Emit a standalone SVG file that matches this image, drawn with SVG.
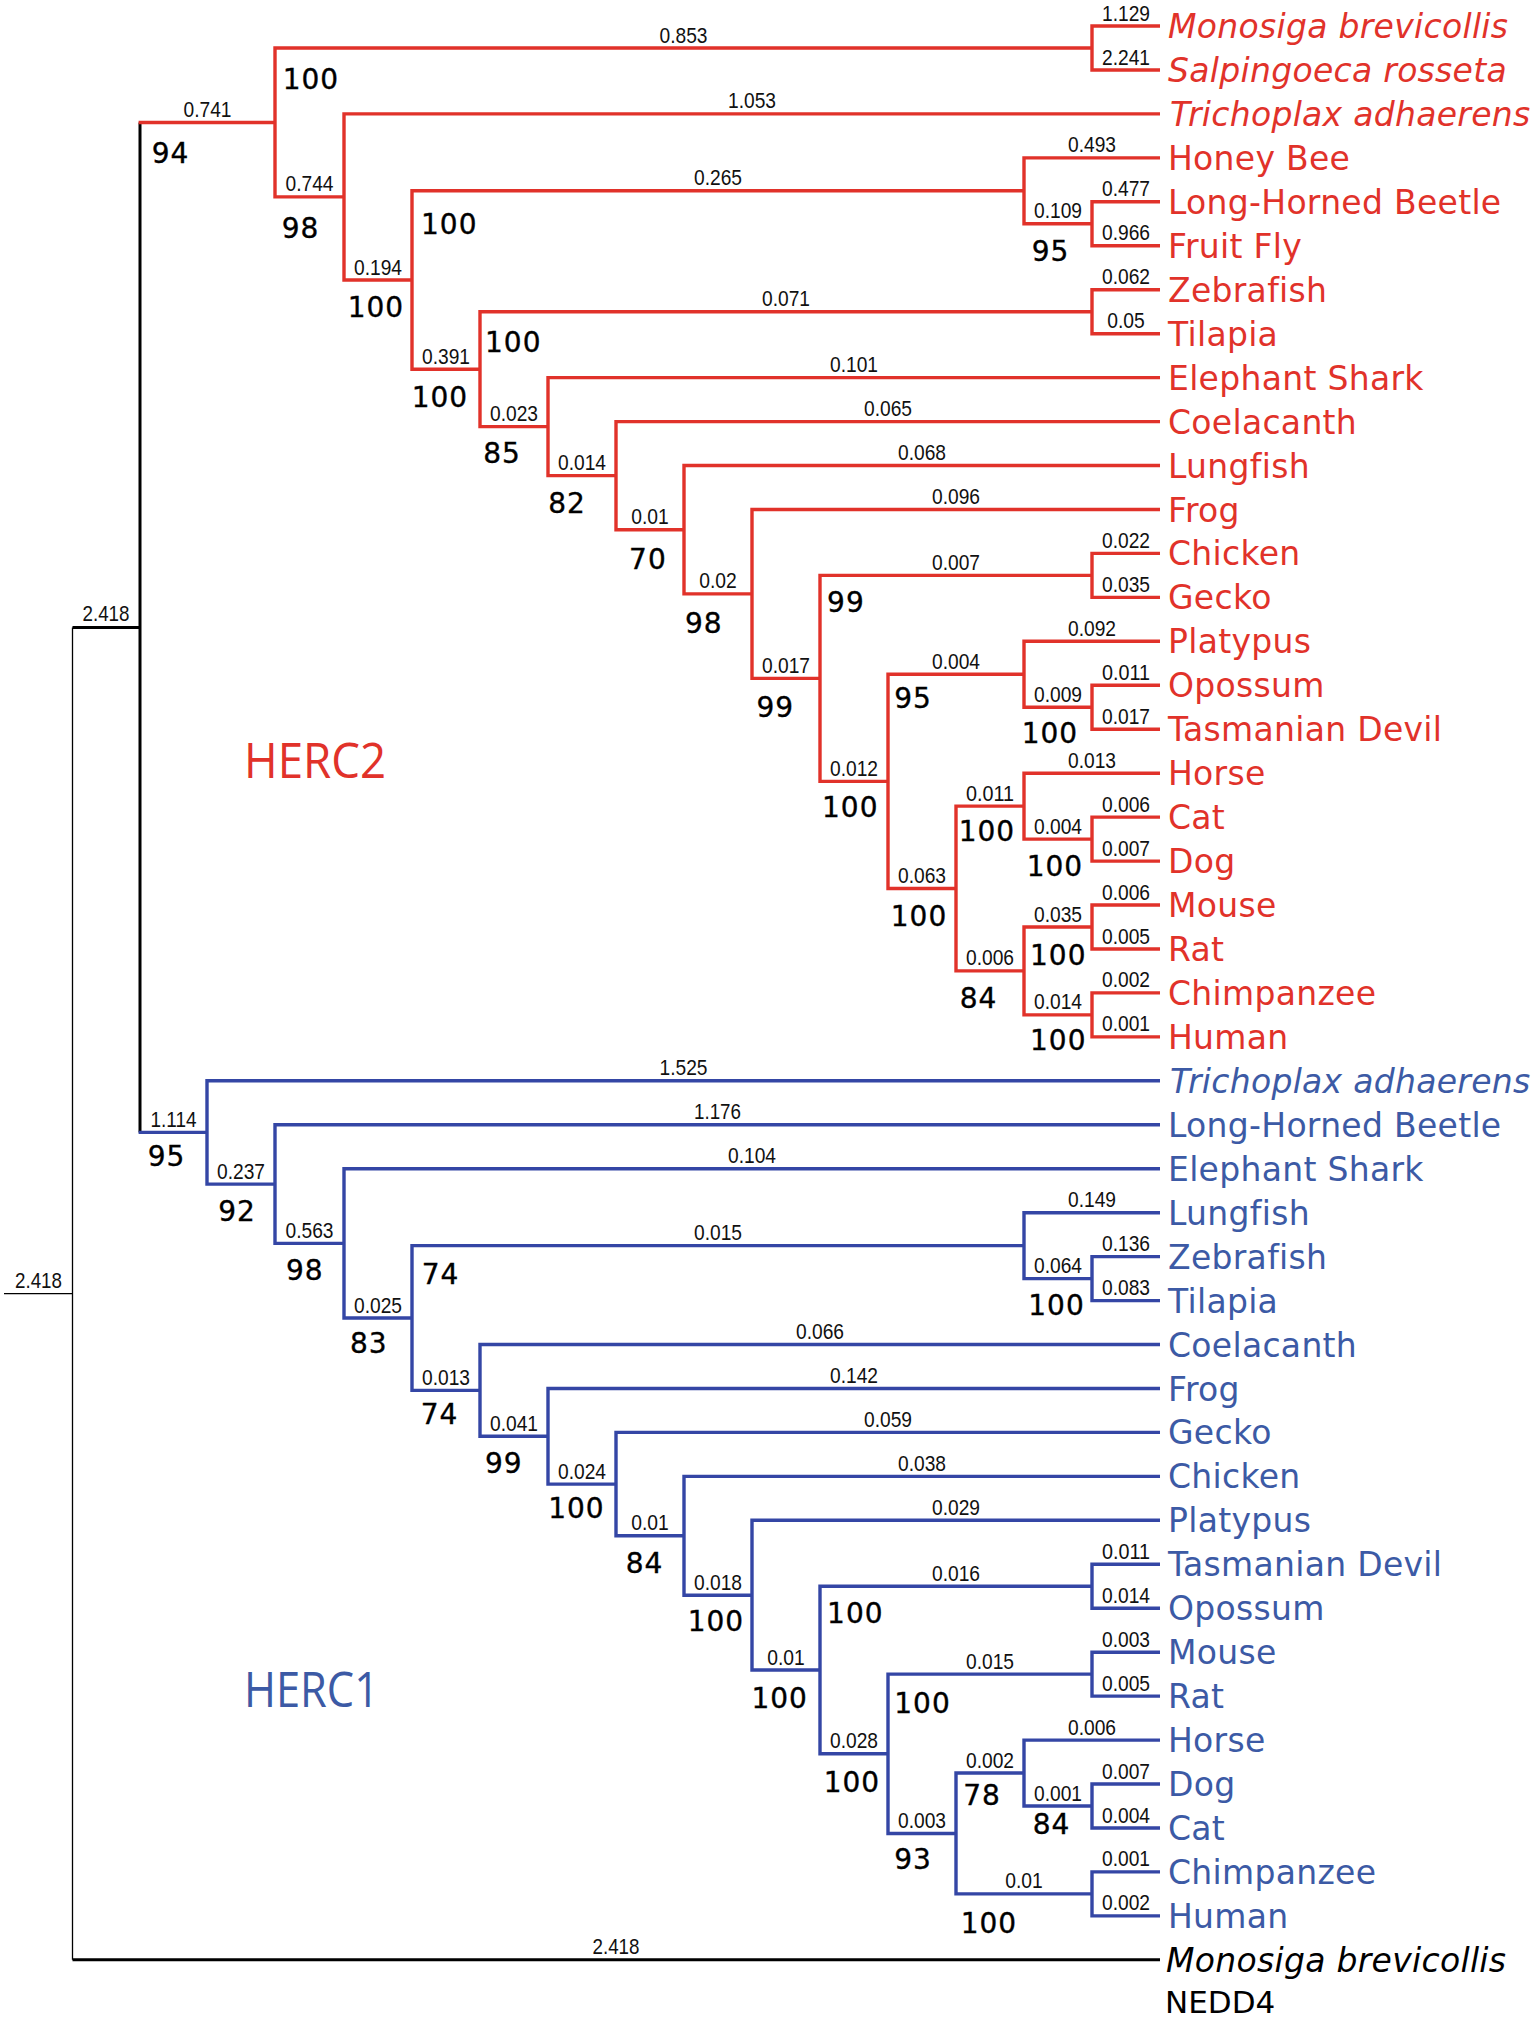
<svg xmlns="http://www.w3.org/2000/svg" width="1535" height="2018" viewBox="0 0 1535 2018">
<style>
.r{fill:none;stroke:#e1322a;stroke-width:3.4;stroke-linejoin:miter}
.b{fill:none;stroke:#3446a5;stroke-width:3.4;stroke-linejoin:miter}
.k{fill:none;stroke:#000;stroke-width:3}
.thin{fill:none;stroke:#000;stroke-width:1.3}
.bl{font-family:"Liberation Sans",Arial,sans-serif;font-size:22px;fill:#111;text-anchor:middle}
.bs{font-family:"DejaVu Sans",sans-serif;font-size:28px;fill:#000;stroke:#000;stroke-width:0.35;letter-spacing:1px}
.tx{font-family:"DejaVu Sans",sans-serif;font-size:33px;letter-spacing:0.3px}
.tr{fill:#e1322a}
.tb{fill:#3c5aa5}
.tk{fill:#000}
.it{font-style:italic}
.gene{font-family:"Open Sans","Noto Sans",sans-serif;font-size:49px}
</style>
<rect width="1535" height="2018" fill="#fff"/>
<g id="connectors">
<path class="thin" d="M72.5,627.5V1959.8M4,1293.6H72.5"/>
<path class="k" d="M140,122.5V1132.4M72.5,627.5H140M72.5,1959.8H1160"/>
<g id="herc2-branches">
<path class="r" d="M138.6,122.5H275"/>
<path class="r" d="M1160,26H1092V70H1160"/>
<path class="r" d="M1092,48H275V196.9H344"/>
<path class="r" d="M1160,113.9H344V280H412"/>
<path class="r" d="M1024,190.8H412V369.2H480"/>
<path class="r" d="M1160,157.9H1024V223.8H1092"/>
<path class="r" d="M1160,201.8H1092V245.8H1160"/>
<path class="r" d="M1092,311.7H480V426.6H548"/>
<path class="r" d="M1160,289.7H1092V333.7H1160"/>
<path class="r" d="M1160,377.6H548V475.6H616"/>
<path class="r" d="M1160,421.6H616V529.7H684"/>
<path class="r" d="M1160,465.5H684V593.9H752"/>
<path class="r" d="M1160,509.5H752V678.4H820"/>
<path class="r" d="M1092,575.4H820V781.4H888"/>
<path class="r" d="M1160,553.4H1092V597.4H1160"/>
<path class="r" d="M1024,674.3H888V888.5H956"/>
<path class="r" d="M1160,641.3H1024V707.2H1092"/>
<path class="r" d="M1160,685.3H1092V729.2H1160"/>
<path class="r" d="M1024,806.1H956V970.9H1024"/>
<path class="r" d="M1160,773.2H1024V839.1H1092"/>
<path class="r" d="M1160,817.1H1092V861.1H1160"/>
<path class="r" d="M1092,927H1024V1014.9H1092"/>
<path class="r" d="M1160,905H1092V949H1160"/>
<path class="r" d="M1160,992.9H1092V1036.9H1160"/>
</g>
<g id="herc1-branches">
<path class="b" d="M138.6,1132.4H207"/>
<path class="b" d="M1160,1080.8H207V1184.1H275"/>
<path class="b" d="M1160,1124.8H275V1243.4H344"/>
<path class="b" d="M1160,1168.7H344V1318H412"/>
<path class="b" d="M1024,1245.6H412V1390.4H480"/>
<path class="b" d="M1160,1212.7H1024V1278.6H1092"/>
<path class="b" d="M1160,1256.6H1092V1300.6H1160"/>
<path class="b" d="M1160,1344.5H480V1436.3H548"/>
<path class="b" d="M1160,1388.5H548V1484.1H616"/>
<path class="b" d="M1160,1432.4H616V1535.8H684"/>
<path class="b" d="M1160,1476.4H684V1595.2H752"/>
<path class="b" d="M1160,1520.3H752V1670H820"/>
<path class="b" d="M1092,1586.2H820V1753.8H888"/>
<path class="b" d="M1160,1564.3H1092V1608.2H1160"/>
<path class="b" d="M1092,1674.1H888V1833.5H956"/>
<path class="b" d="M1160,1652.2H1092V1696.1H1160"/>
<path class="b" d="M1024,1773H956V1893.9H1092"/>
<path class="b" d="M1160,1740.1H1024V1806H1092"/>
<path class="b" d="M1160,1784H1092V1828H1160"/>
<path class="b" d="M1160,1871.9H1092V1915.9H1160"/>
</g>
</g>
<g id="branch-lengths">
<text class="bl" x="106" y="621" textLength="47" lengthAdjust="spacingAndGlyphs">2.418</text>
<text class="bl" x="38.5" y="1287.5" textLength="47" lengthAdjust="spacingAndGlyphs">2.418</text>
<text class="bl" x="616" y="1953.5" textLength="47" lengthAdjust="spacingAndGlyphs">2.418</text>
<text class="bl" x="207.5" y="117" textLength="48" lengthAdjust="spacingAndGlyphs">0.741</text>
<text class="bl" x="683.5" y="42.5" textLength="48" lengthAdjust="spacingAndGlyphs">0.853</text>
<text class="bl" x="1126" y="20.5" textLength="48" lengthAdjust="spacingAndGlyphs">1.129</text>
<text class="bl" x="1126" y="64.5" textLength="48" lengthAdjust="spacingAndGlyphs">2.241</text>
<text class="bl" x="752" y="108.4" textLength="48" lengthAdjust="spacingAndGlyphs">1.053</text>
<text class="bl" x="309.5" y="191.4" textLength="48" lengthAdjust="spacingAndGlyphs">0.744</text>
<text class="bl" x="378" y="274.5" textLength="48" lengthAdjust="spacingAndGlyphs">0.194</text>
<text class="bl" x="718" y="185.3" textLength="48" lengthAdjust="spacingAndGlyphs">0.265</text>
<text class="bl" x="1092" y="152.4" textLength="48" lengthAdjust="spacingAndGlyphs">0.493</text>
<text class="bl" x="1058" y="218.3" textLength="48" lengthAdjust="spacingAndGlyphs">0.109</text>
<text class="bl" x="1126" y="196.3" textLength="48" lengthAdjust="spacingAndGlyphs">0.477</text>
<text class="bl" x="1126" y="240.3" textLength="48" lengthAdjust="spacingAndGlyphs">0.966</text>
<text class="bl" x="446" y="363.7" textLength="48" lengthAdjust="spacingAndGlyphs">0.391</text>
<text class="bl" x="786" y="306.2" textLength="48" lengthAdjust="spacingAndGlyphs">0.071</text>
<text class="bl" x="1126" y="284.2" textLength="48" lengthAdjust="spacingAndGlyphs">0.062</text>
<text class="bl" x="1126" y="328.2" textLength="37.5" lengthAdjust="spacingAndGlyphs">0.05</text>
<text class="bl" x="514" y="421.1" textLength="48" lengthAdjust="spacingAndGlyphs">0.023</text>
<text class="bl" x="854" y="372.1" textLength="48" lengthAdjust="spacingAndGlyphs">0.101</text>
<text class="bl" x="582" y="470.1" textLength="48" lengthAdjust="spacingAndGlyphs">0.014</text>
<text class="bl" x="888" y="416.1" textLength="48" lengthAdjust="spacingAndGlyphs">0.065</text>
<text class="bl" x="650" y="524.2" textLength="37.5" lengthAdjust="spacingAndGlyphs">0.01</text>
<text class="bl" x="922" y="460" textLength="48" lengthAdjust="spacingAndGlyphs">0.068</text>
<text class="bl" x="718" y="588.4" textLength="37.5" lengthAdjust="spacingAndGlyphs">0.02</text>
<text class="bl" x="956" y="504" textLength="48" lengthAdjust="spacingAndGlyphs">0.096</text>
<text class="bl" x="786" y="672.9" textLength="48" lengthAdjust="spacingAndGlyphs">0.017</text>
<text class="bl" x="956" y="569.9" textLength="48" lengthAdjust="spacingAndGlyphs">0.007</text>
<text class="bl" x="1126" y="547.9" textLength="48" lengthAdjust="spacingAndGlyphs">0.022</text>
<text class="bl" x="1126" y="591.9" textLength="48" lengthAdjust="spacingAndGlyphs">0.035</text>
<text class="bl" x="854" y="775.9" textLength="48" lengthAdjust="spacingAndGlyphs">0.012</text>
<text class="bl" x="956" y="668.8" textLength="48" lengthAdjust="spacingAndGlyphs">0.004</text>
<text class="bl" x="1092" y="635.8" textLength="48" lengthAdjust="spacingAndGlyphs">0.092</text>
<text class="bl" x="1058" y="701.7" textLength="48" lengthAdjust="spacingAndGlyphs">0.009</text>
<text class="bl" x="1126" y="679.8" textLength="48" lengthAdjust="spacingAndGlyphs">0.011</text>
<text class="bl" x="1126" y="723.7" textLength="48" lengthAdjust="spacingAndGlyphs">0.017</text>
<text class="bl" x="922" y="883" textLength="48" lengthAdjust="spacingAndGlyphs">0.063</text>
<text class="bl" x="990" y="800.6" textLength="48" lengthAdjust="spacingAndGlyphs">0.011</text>
<text class="bl" x="1092" y="767.7" textLength="48" lengthAdjust="spacingAndGlyphs">0.013</text>
<text class="bl" x="1058" y="833.6" textLength="48" lengthAdjust="spacingAndGlyphs">0.004</text>
<text class="bl" x="1126" y="811.6" textLength="48" lengthAdjust="spacingAndGlyphs">0.006</text>
<text class="bl" x="1126" y="855.6" textLength="48" lengthAdjust="spacingAndGlyphs">0.007</text>
<text class="bl" x="990" y="965.4" textLength="48" lengthAdjust="spacingAndGlyphs">0.006</text>
<text class="bl" x="1058" y="921.5" textLength="48" lengthAdjust="spacingAndGlyphs">0.035</text>
<text class="bl" x="1126" y="899.5" textLength="48" lengthAdjust="spacingAndGlyphs">0.006</text>
<text class="bl" x="1126" y="943.5" textLength="48" lengthAdjust="spacingAndGlyphs">0.005</text>
<text class="bl" x="1058" y="1009.4" textLength="48" lengthAdjust="spacingAndGlyphs">0.014</text>
<text class="bl" x="1126" y="987.4" textLength="48" lengthAdjust="spacingAndGlyphs">0.002</text>
<text class="bl" x="1126" y="1031.4" textLength="48" lengthAdjust="spacingAndGlyphs">0.001</text>
<text class="bl" x="173.5" y="1126.9" textLength="46" lengthAdjust="spacingAndGlyphs">1.114</text>
<text class="bl" x="683.5" y="1075.3" textLength="48" lengthAdjust="spacingAndGlyphs">1.525</text>
<text class="bl" x="241" y="1178.6" textLength="48" lengthAdjust="spacingAndGlyphs">0.237</text>
<text class="bl" x="717.5" y="1119.3" textLength="47" lengthAdjust="spacingAndGlyphs">1.176</text>
<text class="bl" x="309.5" y="1237.9" textLength="48" lengthAdjust="spacingAndGlyphs">0.563</text>
<text class="bl" x="752" y="1163.2" textLength="48" lengthAdjust="spacingAndGlyphs">0.104</text>
<text class="bl" x="378" y="1312.5" textLength="48" lengthAdjust="spacingAndGlyphs">0.025</text>
<text class="bl" x="718" y="1240.1" textLength="48" lengthAdjust="spacingAndGlyphs">0.015</text>
<text class="bl" x="1092" y="1207.2" textLength="48" lengthAdjust="spacingAndGlyphs">0.149</text>
<text class="bl" x="1058" y="1273.1" textLength="48" lengthAdjust="spacingAndGlyphs">0.064</text>
<text class="bl" x="1126" y="1251.1" textLength="48" lengthAdjust="spacingAndGlyphs">0.136</text>
<text class="bl" x="1126" y="1295.1" textLength="48" lengthAdjust="spacingAndGlyphs">0.083</text>
<text class="bl" x="446" y="1384.9" textLength="48" lengthAdjust="spacingAndGlyphs">0.013</text>
<text class="bl" x="820" y="1339" textLength="48" lengthAdjust="spacingAndGlyphs">0.066</text>
<text class="bl" x="514" y="1430.8" textLength="48" lengthAdjust="spacingAndGlyphs">0.041</text>
<text class="bl" x="854" y="1383" textLength="48" lengthAdjust="spacingAndGlyphs">0.142</text>
<text class="bl" x="582" y="1478.6" textLength="48" lengthAdjust="spacingAndGlyphs">0.024</text>
<text class="bl" x="888" y="1426.9" textLength="48" lengthAdjust="spacingAndGlyphs">0.059</text>
<text class="bl" x="650" y="1530.3" textLength="37.5" lengthAdjust="spacingAndGlyphs">0.01</text>
<text class="bl" x="922" y="1470.9" textLength="48" lengthAdjust="spacingAndGlyphs">0.038</text>
<text class="bl" x="718" y="1589.7" textLength="48" lengthAdjust="spacingAndGlyphs">0.018</text>
<text class="bl" x="956" y="1514.8" textLength="48" lengthAdjust="spacingAndGlyphs">0.029</text>
<text class="bl" x="786" y="1664.5" textLength="37.5" lengthAdjust="spacingAndGlyphs">0.01</text>
<text class="bl" x="956" y="1580.7" textLength="48" lengthAdjust="spacingAndGlyphs">0.016</text>
<text class="bl" x="1126" y="1558.8" textLength="48" lengthAdjust="spacingAndGlyphs">0.011</text>
<text class="bl" x="1126" y="1602.7" textLength="48" lengthAdjust="spacingAndGlyphs">0.014</text>
<text class="bl" x="854" y="1748.3" textLength="48" lengthAdjust="spacingAndGlyphs">0.028</text>
<text class="bl" x="990" y="1668.6" textLength="48" lengthAdjust="spacingAndGlyphs">0.015</text>
<text class="bl" x="1126" y="1646.7" textLength="48" lengthAdjust="spacingAndGlyphs">0.003</text>
<text class="bl" x="1126" y="1690.6" textLength="48" lengthAdjust="spacingAndGlyphs">0.005</text>
<text class="bl" x="922" y="1828" textLength="48" lengthAdjust="spacingAndGlyphs">0.003</text>
<text class="bl" x="990" y="1767.5" textLength="48" lengthAdjust="spacingAndGlyphs">0.002</text>
<text class="bl" x="1092" y="1734.6" textLength="48" lengthAdjust="spacingAndGlyphs">0.006</text>
<text class="bl" x="1058" y="1800.5" textLength="48" lengthAdjust="spacingAndGlyphs">0.001</text>
<text class="bl" x="1126" y="1778.5" textLength="48" lengthAdjust="spacingAndGlyphs">0.007</text>
<text class="bl" x="1126" y="1822.5" textLength="48" lengthAdjust="spacingAndGlyphs">0.004</text>
<text class="bl" x="1024" y="1888.4" textLength="37.5" lengthAdjust="spacingAndGlyphs">0.01</text>
<text class="bl" x="1126" y="1866.4" textLength="48" lengthAdjust="spacingAndGlyphs">0.001</text>
<text class="bl" x="1126" y="1910.4" textLength="48" lengthAdjust="spacingAndGlyphs">0.002</text>
</g>
<g id="internal-nodes">
<g id="n-A"><text class="bs" x="282.7" y="89.3">100</text></g>
<g id="n-B"><text class="bs" x="151.7" y="162.7">94</text></g>
<g id="n-C"><text class="bs" x="281.7" y="238.3">98</text></g>
<g id="n-D"><text class="bs" x="347.7" y="316.7">100</text></g>
<g id="n-E"><text class="bs" x="421" y="234.3">100</text></g>
<g id="n-E2"><text class="bs" x="1031.7" y="261">95</text></g>
<g id="n-F"><text class="bs" x="411.7" y="406.7">100</text></g>
<g id="n-G"><text class="bs" x="485" y="352.3">100</text></g>
<g id="n-H"><text class="bs" x="483.3" y="463.3">85</text></g>
<g id="n-I"><text class="bs" x="548.2" y="513.3">82</text></g>
<g id="n-J"><text class="bs" x="629.1" y="569.3">70</text></g>
<g id="n-K"><text class="bs" x="684.9" y="633.3">98</text></g>
<g id="n-L"><text class="bs" x="756.5" y="717.3">99</text></g>
<g id="n-M"><text class="bs" x="827.1" y="611.7">99</text></g>
<g id="n-N"><text class="bs" x="822" y="817.3">100</text></g>
<g id="n-O"><text class="bs" x="894.3" y="708.3">95</text></g>
<g id="n-O2"><text class="bs" x="1021.7" y="742.7">100</text></g>
<g id="n-P"><text class="bs" x="890.8" y="926">100</text></g>
<g id="n-Q"><text class="bs" x="958.7" y="840.7">100</text></g>
<g id="n-Q2"><text class="bs" x="1026.7" y="876">100</text></g>
<g id="n-R"><text class="bs" x="959.7" y="1008.3">84</text></g>
<g id="n-R1"><text class="bs" x="1030" y="965">100</text></g>
<g id="n-R2"><text class="bs" x="1030" y="1050">100</text></g>
<g id="n-S"><text class="bs" x="147.7" y="1166">95</text></g>
<g id="n-T"><text class="bs" x="218.3" y="1220.7">92</text></g>
<g id="n-U"><text class="bs" x="286" y="1280">98</text></g>
<g id="n-V"><text class="bs" x="350" y="1353.3">83</text></g>
<g id="n-W"><text class="bs" x="421.7" y="1284.3">74</text></g>
<g id="n-W2"><text class="bs" x="1028.3" y="1315">100</text></g>
<g id="n-X"><text class="bs" x="420.7" y="1424">74</text></g>
<g id="n-Y"><text class="bs" x="485" y="1473.3">99</text></g>
<g id="n-Z"><text class="bs" x="548.2" y="1518.3">100</text></g>
<g id="n-AA"><text class="bs" x="625.7" y="1572.7">84</text></g>
<g id="n-AB"><text class="bs" x="687.7" y="1630.7">100</text></g>
<g id="n-AC"><text class="bs" x="751.4" y="1708.3">100</text></g>
<g id="n-AD"><text class="bs" x="827.1" y="1623.3">100</text></g>
<g id="n-AE"><text class="bs" x="823.7" y="1791.7">100</text></g>
<g id="n-AF"><text class="bs" x="894.3" y="1712.7">100</text></g>
<g id="n-AG"><text class="bs" x="894.3" y="1869.3">93</text></g>
<g id="n-AH"><text class="bs" x="963.2" y="1805">78</text></g>
<g id="n-AH2"><text class="bs" x="1032.7" y="1834.3">84</text></g>
<g id="n-AI"><text class="bs" x="960.7" y="1932.7">100</text></g>
</g>
<g id="herc2-taxa">
<g id="h2-monosiga"><text class="tx tr it" x="1168" y="38">Monosiga brevicollis</text></g>
<g id="h2-salpingoeca"><text class="tx tr it" x="1168" y="82">Salpingoeca rosseta</text></g>
<g id="h2-trichoplax"><text class="tx tr it" x="1170" y="125.9">Trichoplax adhaerens</text></g>
<g id="h2-honeybee"><text class="tx tr" x="1168" y="169.9">Honey Bee</text></g>
<g id="h2-beetle"><text class="tx tr" x="1168" y="213.8">Long-Horned Beetle</text></g>
<g id="h2-fruitfly"><text class="tx tr" x="1168" y="257.8">Fruit Fly</text></g>
<g id="h2-zebrafish"><text class="tx tr" x="1168" y="301.7">Zebrafish</text></g>
<g id="h2-tilapia"><text class="tx tr" x="1168" y="345.7">Tilapia</text></g>
<g id="h2-shark"><text class="tx tr" x="1168" y="389.6">Elephant Shark</text></g>
<g id="h2-coelacanth"><text class="tx tr" x="1168" y="433.6">Coelacanth</text></g>
<g id="h2-lungfish"><text class="tx tr" x="1168" y="477.5">Lungfish</text></g>
<g id="h2-frog"><text class="tx tr" x="1168" y="521.5">Frog</text></g>
<g id="h2-chicken"><text class="tx tr" x="1168" y="565.4">Chicken</text></g>
<g id="h2-gecko"><text class="tx tr" x="1168" y="609.4">Gecko</text></g>
<g id="h2-platypus"><text class="tx tr" x="1168" y="653.3">Platypus</text></g>
<g id="h2-opossum"><text class="tx tr" x="1168" y="697.3">Opossum</text></g>
<g id="h2-devil"><text class="tx tr" x="1168" y="741.2">Tasmanian Devil</text></g>
<g id="h2-horse"><text class="tx tr" x="1168" y="785.2">Horse</text></g>
<g id="h2-cat"><text class="tx tr" x="1168" y="829.1">Cat</text></g>
<g id="h2-dog"><text class="tx tr" x="1168" y="873.1">Dog</text></g>
<g id="h2-mouse"><text class="tx tr" x="1168" y="917">Mouse</text></g>
<g id="h2-rat"><text class="tx tr" x="1168" y="961">Rat</text></g>
<g id="h2-chimp"><text class="tx tr" x="1168" y="1004.9">Chimpanzee</text></g>
<g id="h2-human"><text class="tx tr" x="1168" y="1048.9">Human</text></g>
</g>
<g id="herc1-taxa">
<g id="h1-trichoplax"><text class="tx tb it" x="1170" y="1092.8">Trichoplax adhaerens</text></g>
<g id="h1-beetle"><text class="tx tb" x="1168" y="1136.8">Long-Horned Beetle</text></g>
<g id="h1-shark"><text class="tx tb" x="1168" y="1180.7">Elephant Shark</text></g>
<g id="h1-lungfish"><text class="tx tb" x="1168" y="1224.7">Lungfish</text></g>
<g id="h1-zebrafish"><text class="tx tb" x="1168" y="1268.6">Zebrafish</text></g>
<g id="h1-tilapia"><text class="tx tb" x="1168" y="1312.6">Tilapia</text></g>
<g id="h1-coelacanth"><text class="tx tb" x="1168" y="1356.5">Coelacanth</text></g>
<g id="h1-frog"><text class="tx tb" x="1168" y="1400.5">Frog</text></g>
<g id="h1-gecko"><text class="tx tb" x="1168" y="1444.4">Gecko</text></g>
<g id="h1-chicken"><text class="tx tb" x="1168" y="1488.4">Chicken</text></g>
<g id="h1-platypus"><text class="tx tb" x="1168" y="1532.3">Platypus</text></g>
<g id="h1-devil"><text class="tx tb" x="1168" y="1576.3">Tasmanian Devil</text></g>
<g id="h1-opossum"><text class="tx tb" x="1168" y="1620.2">Opossum</text></g>
<g id="h1-mouse"><text class="tx tb" x="1168" y="1664.2">Mouse</text></g>
<g id="h1-rat"><text class="tx tb" x="1168" y="1708.1">Rat</text></g>
<g id="h1-horse"><text class="tx tb" x="1168" y="1752.1">Horse</text></g>
<g id="h1-dog"><text class="tx tb" x="1168" y="1796">Dog</text></g>
<g id="h1-cat"><text class="tx tb" x="1168" y="1840">Cat</text></g>
<g id="h1-chimp"><text class="tx tb" x="1168" y="1883.9">Chimpanzee</text></g>
<g id="h1-human"><text class="tx tb" x="1168" y="1927.9">Human</text></g>
</g>
<g id="outgroup">
<text class="tx tk it" x="1166" y="1971.8">Monosiga brevicollis</text>
<text class="tx tk" x="1165" y="2012.5" style="font-size:31px;letter-spacing:0">NEDD4</text>
</g>
<g id="gene-labels">
<text class="gene tr" x="244" y="778.3" textLength="142" lengthAdjust="spacingAndGlyphs">HERC2</text>
<text class="gene tb" x="244" y="1707.3" textLength="135" lengthAdjust="spacingAndGlyphs">HERC1</text>
</g>
</svg>
